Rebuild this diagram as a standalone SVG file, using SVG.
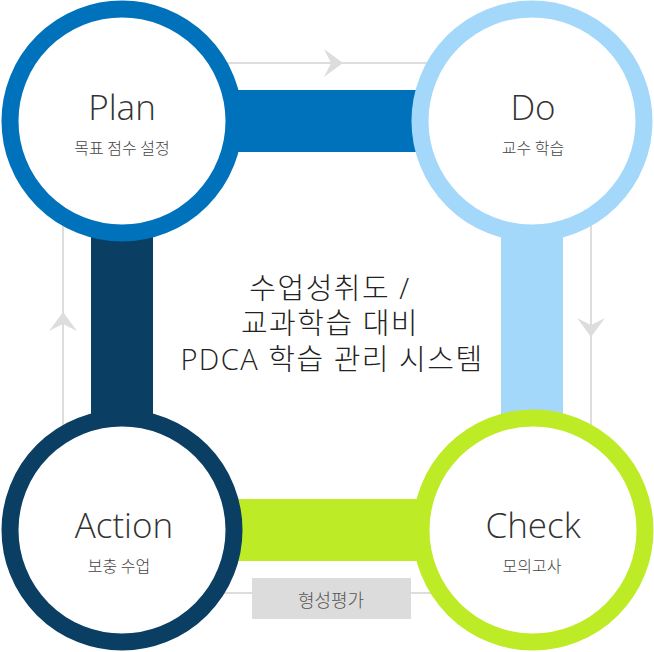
<svg xmlns="http://www.w3.org/2000/svg" width="654" height="652" viewBox="0 0 654 652">
<defs>
<style>
.ring{fill:#ffffff;stroke-width:17}
.title{font-family:"Open Sans","Noto Sans CJK KR",sans-serif;font-weight:300;font-size:35px;fill:#333333;text-anchor:middle}
.sub{font-family:"Noto Sans CJK KR","Noto Sans",sans-serif;font-weight:300;font-size:16px;fill:#444444;text-anchor:middle}
.center{font-family:"Open Sans","Noto Sans CJK KR",sans-serif;font-weight:300;font-size:29px;letter-spacing:1.5px;fill:#222222;text-anchor:middle}
.flow{fill:none;stroke:#dddddd;stroke-width:2}
.arrow{fill:#dddddd}
</style>
</defs>
<rect width="654" height="652" fill="#ffffff"/>
<g id="connectors">
<rect class="flow" x="63" y="63" width="528" height="530"/>
<path class="arrow" d="M324,49 L343,63 L324,77 L331,63 Z"/>
<path class="arrow" d="M577,318 L591,337 L605,318 L591,325 Z"/>
<path class="arrow" d="M49,331 L63,312 L77,331 L63,324 Z"/>
<rect x="200" y="90" width="260" height="62" fill="#0072bc"/>
<rect x="501" y="180" width="62" height="300" fill="#a4d8fa"/>
<rect x="200" y="499" width="260" height="62" fill="#bdeb26"/>
<rect x="91" y="180" width="62" height="300" fill="#0a3e63"/>
</g>
<g id="plan">
<circle class="ring" cx="122" cy="121" r="112" stroke="#0072bc"/>
<text class="title" x="122" y="120">Plan</text>
<text class="sub" x="122" y="154">목표 점수 설정</text>
</g>
<g id="do">
<circle class="ring" cx="532" cy="121" r="112" stroke="#a4d8fa"/>
<text class="title" x="533" y="120">Do</text>
<text class="sub" x="533" y="154">교수 학습</text>
</g>
<g id="check">
<circle class="ring" cx="533" cy="530" r="112" stroke="#bdeb26"/>
<text class="title" x="533" y="538">Check</text>
<text class="sub" x="532" y="572">모의고사</text>
</g>
<g id="action">
<circle class="ring" cx="122" cy="530" r="112" stroke="#0a3e63"/>
<text class="title" x="124" y="538">Action</text>
<text class="sub" x="119" y="572">보충 수업</text>
</g>
<g id="formative">
<rect x="252" y="578" width="159" height="41" fill="#dcdcdc"/>
<text class="sub" x="331" y="607" style="font-size:18px;fill:#555555">형성평가</text>
</g>
<g id="title">
<text class="center" x="330" y="299">수업성취도 /</text>
<text class="center" x="330" y="334">교과학습 대비</text>
<text class="center" x="332" y="370">PDCA 학습 관리 시스템</text>
</g>
</svg>
